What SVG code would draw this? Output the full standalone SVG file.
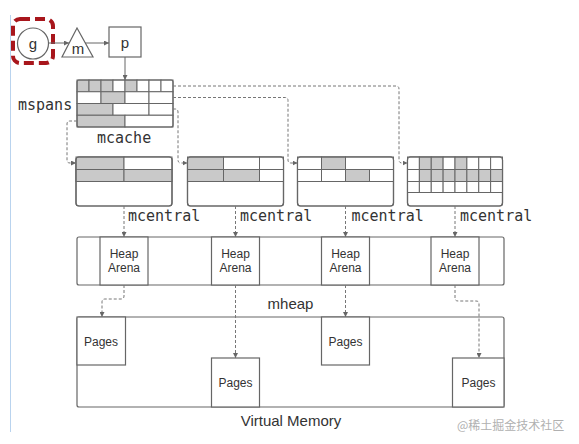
<svg xmlns="http://www.w3.org/2000/svg" width="579" height="444" viewBox="0 0 579 444">
<style>
.box{fill:#fff;stroke:#666;stroke-width:1.2}
.ol{fill:none;stroke:#666;stroke-width:1.2}
.c{fill:#fff;stroke:#666;stroke-width:1}
.gy{fill:#c9c9c9;stroke:#666;stroke-width:1}
.dash{fill:none;stroke:#777;stroke-width:1;stroke-dasharray:3 2}
.solid{fill:none;stroke:#666;stroke-width:1}
.mono{font-family:"DejaVu Sans Mono","Liberation Mono",monospace;font-size:15px;fill:#333}
.sans{font-family:"Liberation Sans",Arial,sans-serif;fill:#333}
</style>
<defs>
<marker id="ah" viewBox="0 0 6 6" refX="6" refY="3" markerWidth="5" markerHeight="5" markerUnits="userSpaceOnUse" orient="auto">
<path d="M0,0 L6,3 L0,6 Z" fill="#666"/>
</marker>
</defs>
<rect width="579" height="444" fill="#fff"/>
<line x1="10.5" y1="15" x2="10.5" y2="432" stroke="#b9d3ee" stroke-width="1"/>

<g id="g-node">
<rect x="13" y="19" width="40" height="44" rx="7" fill="none" stroke="#a8161c" stroke-width="4" stroke-dasharray="10 5"/>
<circle cx="33" cy="43.5" r="15.5" class="box"/>
<text x="33" y="49" text-anchor="middle" class="sans" font-size="15">g</text>
</g>
<g id="m-node">
<polygon points="77,28 62,57 93,57" class="box"/>
<text x="78" y="54" text-anchor="middle" class="sans" font-size="15">m</text>
</g>
<g id="p-node">
<rect x="109" y="27" width="32" height="30" class="box"/>
<text x="125" y="48" text-anchor="middle" class="sans" font-size="15">p</text>
</g>

<g id="mcache">
<rect x="77" y="80" width="12" height="11.75" class="gy"/>
<rect x="89" y="80" width="12" height="11.75" class="gy"/>
<rect x="101" y="80" width="12" height="11.75" class="gy"/>
<rect x="113" y="80" width="12" height="11.75" class="c"/>
<rect x="125" y="80" width="12" height="11.75" class="gy"/>
<rect x="137" y="80" width="12" height="11.75" class="c"/>
<rect x="149" y="80" width="12" height="11.75" class="c"/>
<rect x="161" y="80" width="12" height="11.75" class="c"/>
<rect x="77" y="91.75" width="24" height="11.75" class="c"/>
<rect x="101" y="91.75" width="24" height="11.75" class="gy"/>
<rect x="125" y="91.75" width="24" height="11.75" class="c"/>
<rect x="149" y="91.75" width="24" height="11.75" class="c"/>
<rect x="77" y="103.5" width="36" height="11.75" class="gy"/>
<rect x="113" y="103.5" width="36" height="11.75" class="c"/>
<rect x="149" y="103.5" width="24" height="11.75" class="c"/>
<rect x="77" y="115.25" width="48" height="11.75" class="gy"/>
<rect x="125" y="115.25" width="48" height="11.75" class="c"/>
<rect x="77" y="80" width="96" height="47" rx="2" class="ol"/>
<text x="18" y="110" class="mono">mspans</text>
<text x="97" y="143" class="mono">mcache</text>
</g>

<g id="mcentral-1">
<rect x="76" y="157" width="96" height="49" rx="3" class="box"/>
<rect x="76" y="157" width="48" height="12.5" class="gy"/>
<rect x="124" y="157" width="48" height="12.5" class="c"/>
<rect x="76" y="169.5" width="48" height="12" class="gy"/>
<rect x="124" y="169.5" width="48" height="12" class="gy"/>
<rect x="76" y="157" width="96" height="49" rx="3" class="ol"/>
<text x="128" y="221" class="mono">mcentral</text>
</g>
<g id="mcentral-2">
<rect x="187.5" y="157" width="96" height="49" rx="3" class="box"/>
<rect x="187.5" y="157" width="36" height="12.5" class="gy"/>
<rect x="223.5" y="157" width="36" height="12.5" class="c"/>
<rect x="259.5" y="157" width="24" height="12.5" class="c"/>
<rect x="187.5" y="169.5" width="36" height="12" class="gy"/>
<rect x="223.5" y="169.5" width="36" height="12" class="gy"/>
<rect x="259.5" y="169.5" width="24" height="12" class="c"/>
<rect x="187.5" y="157" width="96" height="49" rx="3" class="ol"/>
<text x="240" y="221" class="mono">mcentral</text>
</g>
<g id="mcentral-3">
<rect x="297.5" y="157" width="96" height="49" rx="3" class="box"/>
<rect x="297.5" y="157" width="24" height="12.5" class="c"/>
<rect x="321.5" y="157" width="24" height="12.5" class="gy"/>
<rect x="345.5" y="157" width="48" height="12.5" class="c"/>
<rect x="297.5" y="169.5" width="24" height="12" class="c"/>
<rect x="321.5" y="169.5" width="24" height="12" class="c"/>
<rect x="345.5" y="169.5" width="24" height="12" class="gy"/>
<rect x="369.5" y="169.5" width="24" height="12" class="c"/>
<rect x="297.5" y="157" width="96" height="49" rx="3" class="ol"/>
<text x="351.5" y="221" class="mono">mcentral</text>
</g>
<g id="mcentral-4">
<rect x="407.5" y="157" width="95" height="49" rx="3" class="box"/>
<rect x="407.5" y="157" width="11.875" height="12.5" class="c"/>
<rect x="419.375" y="157" width="11.875" height="12.5" class="gy"/>
<rect x="431.25" y="157" width="11.875" height="12.5" class="gy"/>
<rect x="443.125" y="157" width="11.875" height="12.5" class="c"/>
<rect x="455" y="157" width="11.875" height="12.5" class="gy"/>
<rect x="466.875" y="157" width="11.875" height="12.5" class="c"/>
<rect x="478.75" y="157" width="11.875" height="12.5" class="c"/>
<rect x="490.625" y="157" width="11.875" height="12.5" class="c"/>
<rect x="407.5" y="169.5" width="11.875" height="12" class="c"/>
<rect x="419.375" y="169.5" width="11.875" height="12" class="gy"/>
<rect x="431.25" y="169.5" width="11.875" height="12" class="gy"/>
<rect x="443.125" y="169.5" width="11.875" height="12" class="gy"/>
<rect x="455" y="169.5" width="11.875" height="12" class="gy"/>
<rect x="466.875" y="169.5" width="11.875" height="12" class="gy"/>
<rect x="478.75" y="169.5" width="11.875" height="12" class="gy"/>
<rect x="490.625" y="169.5" width="11.875" height="12" class="gy"/>
<rect x="407.5" y="181.5" width="11.875" height="11" class="c"/>
<rect x="419.375" y="181.5" width="11.875" height="11" class="c"/>
<rect x="431.25" y="181.5" width="11.875" height="11" class="c"/>
<rect x="443.125" y="181.5" width="11.875" height="11" class="c"/>
<rect x="455" y="181.5" width="11.875" height="11" class="c"/>
<rect x="466.875" y="181.5" width="11.875" height="11" class="c"/>
<rect x="478.75" y="181.5" width="11.875" height="11" class="c"/>
<rect x="490.625" y="181.5" width="11.875" height="11" class="c"/>
<rect x="407.5" y="157" width="95" height="49" rx="3" class="ol"/>
<text x="460" y="221" class="mono">mcentral</text>
</g>

<g id="mheap">
<rect x="77" y="237" width="427" height="48" rx="2" class="box"/>
<text x="290.5" y="309" text-anchor="middle" class="sans" font-size="15">mheap</text>
</g>
<g id="heap-arena-1">
<rect x="100" y="237" width="48" height="48" class="box"/>
<text class="sans" font-size="12" text-anchor="middle"><tspan x="124" y="258">Heap</tspan><tspan x="124" y="272">Arena</tspan></text>
</g>
<g id="heap-arena-2">
<rect x="211.5" y="237" width="48" height="48" class="box"/>
<text class="sans" font-size="12" text-anchor="middle"><tspan x="235.5" y="258">Heap</tspan><tspan x="235.5" y="272">Arena</tspan></text>
</g>
<g id="heap-arena-3">
<rect x="321.5" y="237" width="48" height="48" class="box"/>
<text class="sans" font-size="12" text-anchor="middle"><tspan x="345.5" y="258">Heap</tspan><tspan x="345.5" y="272">Arena</tspan></text>
</g>
<g id="heap-arena-4">
<rect x="431" y="237" width="48" height="48" class="box"/>
<text class="sans" font-size="12" text-anchor="middle"><tspan x="455" y="258">Heap</tspan><tspan x="455" y="272">Arena</tspan></text>
</g>

<g id="virtual-memory">
<rect x="77" y="317" width="427" height="90" rx="2" class="box"/>
<text x="291" y="426" text-anchor="middle" class="sans" font-size="15">Virtual Memory</text>
</g>
<g id="pages-1">
<rect x="77" y="317" width="48.5" height="48" class="box"/>
<text x="101" y="346" text-anchor="middle" class="sans" font-size="12">Pages</text>
</g>
<g id="pages-2">
<rect x="211.5" y="358" width="48" height="49" class="box"/>
<text x="235.5" y="387" text-anchor="middle" class="sans" font-size="12">Pages</text>
</g>
<g id="pages-3">
<rect x="321.5" y="317" width="48" height="48" class="box"/>
<text x="345.5" y="346" text-anchor="middle" class="sans" font-size="12">Pages</text>
</g>
<g id="pages-4">
<rect x="452.5" y="358" width="51.5" height="49" class="box"/>
<text x="478.5" y="387" text-anchor="middle" class="sans" font-size="12">Pages</text>
</g>

<g id="connectors">
<path d="M48.5,43 H69" class="solid" marker-end="url(#ah)"/>
<path d="M85,43 H109" class="solid" marker-end="url(#ah)"/>
<path d="M125,57 V80" class="solid" marker-end="url(#ah)"/>
<path d="M77,121 H70 Q67,121 67,124 V160 Q67,163 70,163 H76" class="dash" marker-end="url(#ah)"/>
<path d="M173,109 H175 Q178,109 178,112 V160 Q178,163 181,163 H187.5" class="dash" marker-end="url(#ah)"/>
<path d="M173,97.5 H285 Q288,97.5 288,100.5 V160 Q288,163 291,163 H297.5" class="dash" marker-end="url(#ah)"/>
<path d="M173,86 H396 Q399,86 399,89 V160 Q399,163 402,163 H407.5" class="dash" marker-end="url(#ah)"/>
<path d="M124,206 V237" class="dash" marker-end="url(#ah)"/>
<path d="M235.5,206 V237" class="dash" marker-end="url(#ah)"/>
<path d="M345.5,206 V237" class="dash" marker-end="url(#ah)"/>
<path d="M455,206 V237" class="dash" marker-end="url(#ah)"/>
<path d="M124,285 V296 Q124,299 121,299 H105 Q102,299 102,302 V317" class="dash" marker-end="url(#ah)"/>
<path d="M235.5,285 V358" class="dash" marker-end="url(#ah)"/>
<path d="M345.5,285 V317" class="dash" marker-end="url(#ah)"/>
<path d="M455,285 V298 Q455,301 458,301 H476 Q479,301 479,304 V358" class="dash" marker-end="url(#ah)"/>
</g>

<text x="457" y="430" font-family="'Noto Sans CJK SC',sans-serif" font-size="12" fill="#b0b0b0">@稀土掘金技术社区</text>
</svg>
